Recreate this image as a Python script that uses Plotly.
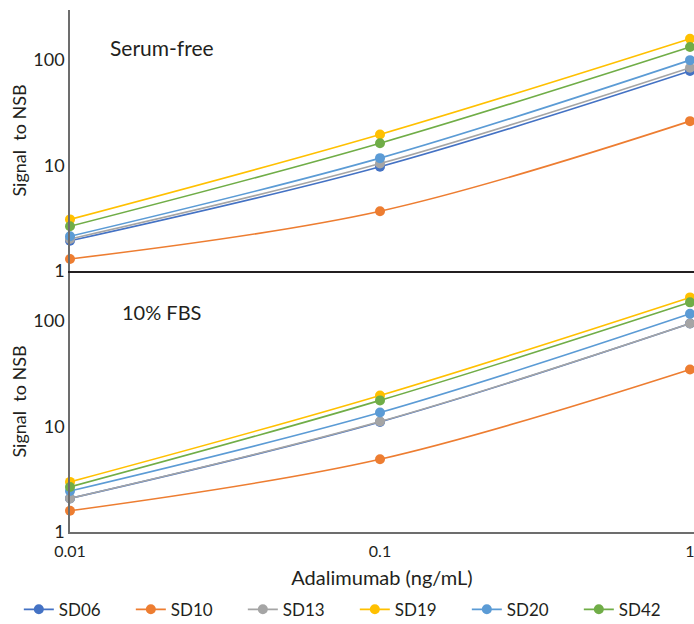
import plotly.graph_objects as go

conc = [0.01, 0.1, 1]
series = ["SD06", "SD10", "SD13", "SD19", "SD20", "SD42"]
colors = ["#4472C4", "#ED7D31", "#A5A5A5", "#FFC000", "#5B9BD5", "#70AD47"]

serum_free = {
    "SD06": [1.93, 9.7, 78],
    "SD10": [1.30, 3.68, 26.2],
    "SD13": [2.01, 10.4, 84],
    "SD19": [3.08, 19.6, 158],
    "SD20": [2.13, 11.7, 99],
    "SD42": [2.65, 16.2, 132],
}
fbs10 = {
    "SD06": [2.08, 11.0, 94],
    "SD10": [1.59, 4.88, 34.5],
    "SD13": [2.08, 11.1, 94],
    "SD19": [2.98, 19.6, 166],
    "SD20": [2.44, 13.5, 116],
    "SD42": [2.67, 17.6, 149],
}

FONT = "Lato"
TXT = "#231f20"
fig = go.Figure()
for name, col in zip(series, colors):
    fig.add_trace(go.Scatter(
        x=conc, y=serum_free[name], name=name, mode="lines+markers",
        line=dict(color=col, width=1.6, shape="spline"),
        marker=dict(color=col, size=10), cliponaxis=False,
        xaxis="x2", yaxis="y2", showlegend=True, legendgroup=name))
for name, col in zip(series, colors):
    fig.add_trace(go.Scatter(
        x=conc, y=fbs10[name], name=name, mode="lines+markers",
        line=dict(color=col, width=1.6, shape="spline"),
        marker=dict(color=col, size=10), cliponaxis=False,
        xaxis="x", yaxis="y", showlegend=False, legendgroup=name))

yax = dict(type="log", range=[0, 2.47], tickvals=[1, 10, 100],
           ticktext=["1", "10", "100"], showgrid=False, zeroline=False,
           showline=True, linecolor="#6d6d6d", linewidth=1.5, ticks="",
           automargin=True,
           tickfont=dict(family=FONT, size=18, color=TXT),
           title=dict(text="Signal  to NSB", font=dict(family=FONT, size=18, color=TXT), standoff=2))
xrange = [-2, 4 / 310]

fig.update_layout(
    width=694, height=624,
    margin=dict(l=70, r=0, t=10, b=92, autoexpand=False),
    paper_bgcolor="white", plot_bgcolor="white",
    font=dict(family=FONT, color=TXT),
    xaxis=dict(type="log", range=xrange, anchor="y", tickvals=[0.01, 0.1, 1],
               ticktext=["0.01", "0.1", "1"], showgrid=False, zeroline=False,
               showline=True, linecolor="#6d6d6d", linewidth=1.5, ticks="",
               automargin=True, ticklabeloverflow="allow", ticklabelstandoff=4,
               tickfont=dict(family=FONT, size=16, color=TXT),
               title=dict(text="Adalimumab (ng/mL)", font=dict(family=FONT, size=20, color=TXT), standoff=12)),
    xaxis2=dict(type="log", range=xrange, anchor="y2", matches="x", showticklabels=False,
                showgrid=False, zeroline=False, showline=True, linecolor="#231f20",
                linewidth=1.5, ticks=""),
    yaxis=dict(domain=[0, 0.5], anchor="x", **yax),
    yaxis2=dict(domain=[0.5, 1], anchor="x2", **yax),
    legend=dict(orientation="h", x=-0.082, xanchor="left", y=-0.149, yanchor="middle",
                xref="paper", yref="paper", itemwidth=30, entrywidth=67,
                font=dict(family=FONT, size=17, color=TXT)),
    annotations=[
        dict(text="Serum-free", xref="paper", yref="paper", x=0.061, y=0.929,
             xanchor="left", yanchor="middle", showarrow=False,
             font=dict(family=FONT, size=21, color=TXT)),
        dict(text="10% FBS", xref="paper", yref="paper", x=0.080, y=0.421,
             xanchor="left", yanchor="middle", showarrow=False,
             font=dict(family=FONT, size=20, color=TXT)),
    ],
)
fig.write_html("out.html", config={"displayModeBar": False},
               post_script="document.body.style.margin='0px';document.body.style.overflow='hidden';")
